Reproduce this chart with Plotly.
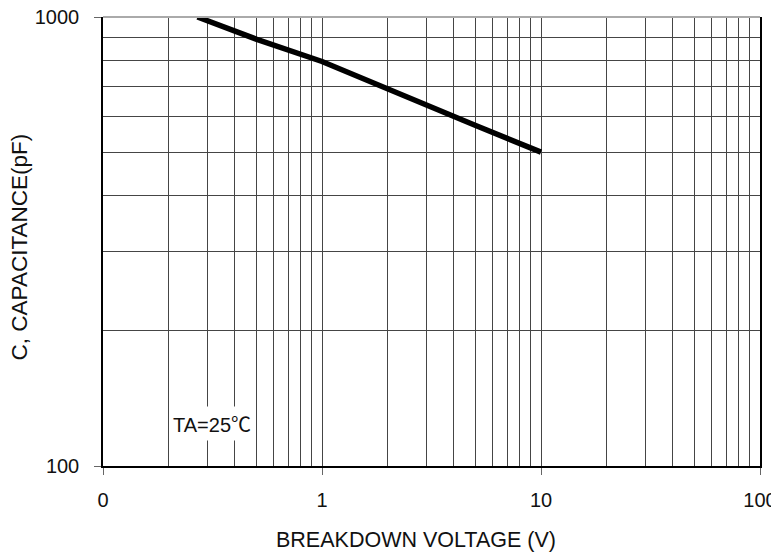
import plotly.graph_objects as go

# Data
voltage = [0.27, 0.5, 1, 2, 5, 10]
capacitance = [1000, 893, 796, 690, 574, 500]

x_major = [0.1, 1, 10, 100]
x_major_text = ["0", "1", "10", "100"]
x_minor = [0.2, 0.3, 0.4, 0.5, 0.6, 0.7, 0.8, 0.9,
           2, 3, 4, 5, 6, 7, 8, 9,
           20, 30, 40, 50, 60, 70, 80, 90]
y_major = [100, 1000]
y_major_text = ["100", "1000"]
y_minor = [200, 300, 400, 500, 600, 700, 800, 900]

FONT = "Liberation Sans, Arial, Noto Sans CJK SC, sans-serif"
GRID = "#454545"

fig = go.Figure()
fig.add_trace(go.Scatter(
    x=voltage, y=capacitance, mode="lines",
    line=dict(color="black", width=5.5),
    showlegend=False, hoverinfo="skip",
))

# page body has an 8px default margin; size the figure so the page never scrolls
fig.update_layout(
    width=771, height=544,
    margin=dict(l=95, r=19, t=9, b=86, autoexpand=False),
    paper_bgcolor="white", plot_bgcolor="white",
    font=dict(family=FONT, size=20, color="#111"),
    xaxis=dict(
        type="log", range=[-1, 2], automargin=False,
        tickmode="array", tickvals=x_major, ticktext=x_major_text,
        ticks="outside", ticklen=7, tickwidth=1, tickcolor="#666",
        showgrid=True, gridcolor=GRID, gridwidth=1,
        minor=dict(tickmode="array", tickvals=x_minor, showgrid=True,
                   gridcolor=GRID, gridwidth=1, ticks=""),
        showline=True, linecolor="black", linewidth=1.5, mirror=False,
        zeroline=False, ticklabelstandoff=8, ticklabeloverflow="allow",
        tickfont=dict(size=20, color="#111"),
    ),
    yaxis=dict(
        type="log", range=[2, 3], automargin=False,
        tickmode="array", tickvals=y_major, ticktext=y_major_text,
        ticks="outside", ticklen=7, tickwidth=1, tickcolor="#666",
        showgrid=True, gridcolor=GRID, gridwidth=1,
        minor=dict(tickmode="array", tickvals=y_minor, showgrid=True,
                   gridcolor=GRID, gridwidth=1, ticks=""),
        showline=True, linecolor="black", linewidth=1.5, mirror=True,
        zeroline=False, ticklabelstandoff=11, ticklabeloverflow="allow",
        tickfont=dict(size=20, color="#111"),
    ),
    shapes=[dict(type="line", xref="paper", yref="paper",
                 x0=0, x1=1, y0=1, y1=1,
                 line=dict(color="#aaaaaa", width=2))],
    annotations=[
        dict(text="BREAKDOWN VOLTAGE (V)", xref="paper", yref="paper",
             x=0.4757, y=-0.165, xanchor="center", yanchor="middle",
             showarrow=False, font=dict(size=21.5, color="#111")),
        dict(text="C, CAPACITANCE(pF)", xref="paper", yref="paper",
             x=-0.127, y=0.488, xanchor="center", yanchor="middle",
             textangle=-90, showarrow=False, font=dict(size=22.5, color="#111")),
        dict(text="TA=25<span style=\"font-family:'Noto Sans CJK SC'\">℃</span>",
             xref="paper", yref="paper",
             x=0.166, y=0.0947, xanchor="center", yanchor="middle",
             showarrow=False, bgcolor="white", borderpad=2,
             font=dict(size=20, color="#111")),
    ],
)

fig.write_html("out.html")
